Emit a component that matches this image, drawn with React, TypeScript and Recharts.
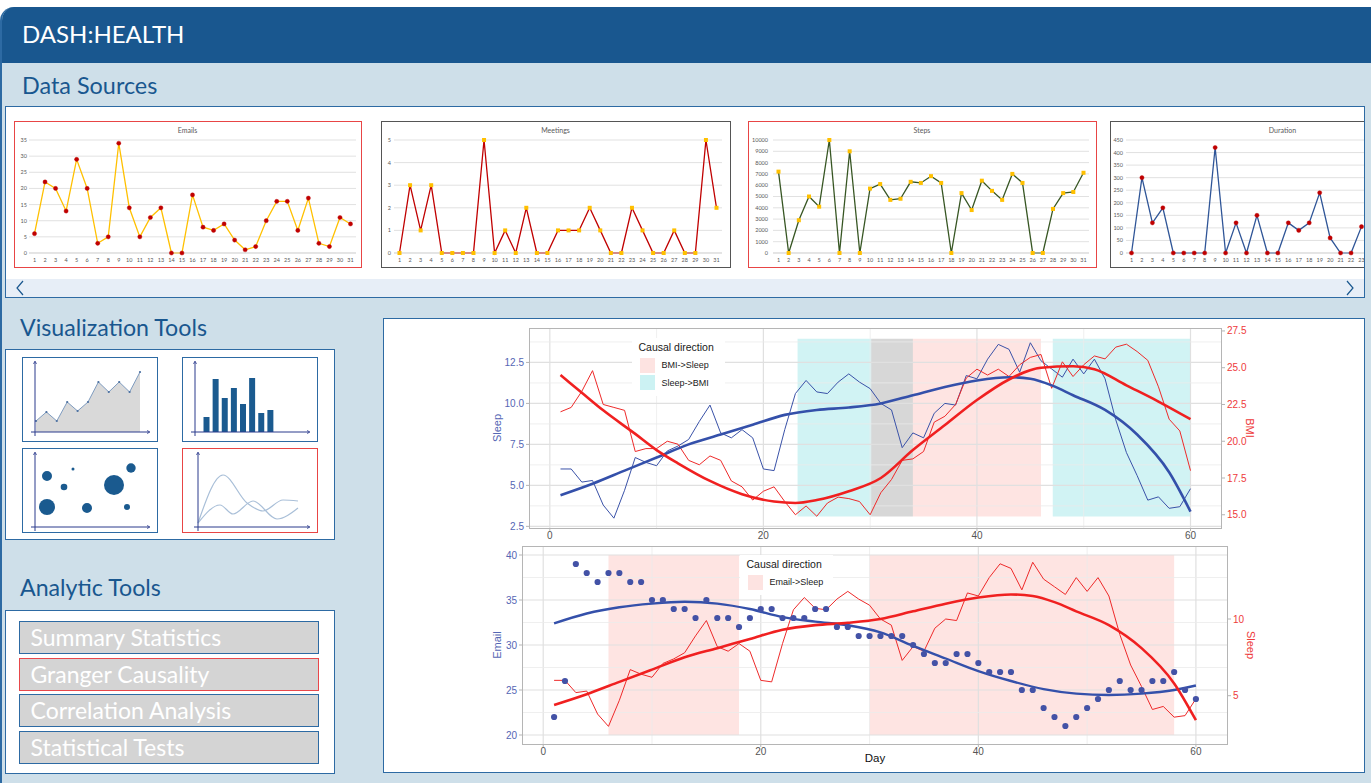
import React from "react";
import {
  Area,
  AreaChart,
  Bar,
  BarChart,
  CartesianGrid,
  ComposedChart,
  Line,
  LineChart,
  ReferenceArea,
  ReferenceLine,
  Scatter,
  ScatterChart,
  XAxis,
  YAxis,
  ZAxis,
} from "recharts";

const FONT_UI = "Lato, 'Open Sans', sans-serif";
const FONT_PLOT = "'Liberation Sans', Arial, sans-serif";
const NAVY = "#19578f";
const PANEL_BORDER = "#2d6aa3";
const BG = "#cedfe9";

// ---- data sources (one month) ----
const MONTH_DAYS = [1, 2, 3, 4, 5, 6, 7, 8, 9, 10, 11, 12, 13, 14, 15, 16, 17, 18, 19, 20, 21, 22, 23, 24, 25, 26, 27, 28, 29, 30, 31];
const EMAILS = [6, 22, 20, 13, 29, 20, 3, 5, 34, 14, 5, 11, 14, 0, 0, 18, 8, 7, 9, 4, 1, 2, 10, 16, 16, 7, 17, 3, 2, 11, 9];
const MEETINGS = [0, 3, 1, 3, 0, 0, 0, 0, 5, 0, 1, 0, 2, 0, 0, 1, 1, 1, 2, 1, 0, 0, 2, 1, 0, 0, 1, 0, 0, 5, 2];
const STEPS = [7200, 0, 2900, 5000, 4100, 10000, 0, 9000, 0, 5700, 6100, 4700, 4800, 6300, 6200, 6800, 6200, 0, 5300, 3800, 6400, 5500, 4700, 7000, 6200, 0, 0, 3900, 5300, 5400, 7100];
// only the first 23 days are visible, the rest is cut off by the panel
const DURATION = [0, 300, 120, 180, 0, 0, 0, 0, 420, 0, 120, 0, 150, 0, 0, 120, 90, 120, 240, 60, 0, 0, 105];

const EMAIL_TICKS = [0, 5, 10, 15, 20, 25, 30, 35];
const MEETING_TICKS = [0, 1, 2, 3, 4, 5];
const STEP_TICKS = [0, 1000, 2000, 3000, 4000, 5000, 6000, 7000, 8000, 9000, 10000];
const DURATION_TICKS = [0, 50, 100, 150, 200, 250, 300, 350, 400, 450];

// ---- visualization tool icons ----
const TREND = [1.1, 2, 1.1, 3, 2.1, 3, 5, 4, 5, 4, 6];
const HIST = [1.5, 5.3, 3.4, 4.4, 2.8, 5.4, 1.9, 2.2];
const BUBBLE_X = [1.2, 3.8, 2.9, 1.2, 5.2, 7.9, 9.6, 9.2];
const BUBBLE_Y = [5.1, 5.8, 4.0, 2.0, 1.9, 4.2, 5.9, 2.0];
const BUBBLE_R2 = [25, 2.3, 11, 64, 25, 100, 22, 9];
const WAVE_X = [0, 2.5, 4.9, 6.5, 8.5, 10];
const WAVE_A = [0.4, 5.2, 2.4, 1.6, 2.7, 2.6];
const WAVE_BX = [0, 2.2, 3.5, 5.5, 7.9, 10];
const WAVE_B = [0.4, 2.2, 1.3, 2.6, 0.8, 1.9];

const TOOLS = ["Summary Statistics", "Granger Causality", "Correlation Analysis", "Statistical Tests"];

// ---- granger causality panel (60 days) ----
const DAYS = Array.from({ length: 60 }, (_, i) => i + 1);
const SLEEP = [
  6.0, 6.0, 5.2, 5.3, 3.8, 3.0, 4.7, 6.7, 6.4, 6.2, 7.1, 7.4, 7.8, 8.9, 9.9, 8.2, 7.9, 8.4, 7.9, 6.0,
  5.9, 8.4, 10.6, 11.4, 10.7, 10.6, 11.3, 11.8, 11.3, 10.9, 10.0, 9.6, 7.3, 8.2, 7.9, 9.4, 10.0, 9.9, 11.7, 11.5,
  12.7, 13.6, 13.3, 11.9, 13.7, 12.6, 12.1, 11.6, 12.7, 11.8, 12.7, 11.5, 9.0, 7.0, 5.6, 4.1, 4.3, 3.6, 3.7, 4.8,
];
const BMI = [
  22.0, 22.3, 23.4, 24.8, 22.5, 22.3, 22.1, 19.3, 19.5, 19.5, 20.0, 19.8, 18.7, 18.4, 19.0, 18.7, 17.3, 16.9, 16.0, 16.6,
  16.9, 15.9, 15.0, 15.6, 14.9, 15.8, 16.2, 16.1, 15.9, 15.0, 16.5, 17.4, 18.7, 18.8, 19.3, 21.3, 21.7, 22.5, 24.3, 24.9,
  24.5, 24.9, 24.4, 25.2, 25.7, 25.9, 23.6, 25.4, 24.4, 25.2, 25.8, 25.6, 26.4, 26.6, 26.1, 25.5, 23.7, 21.5, 20.7, 18.0,
];
const EMAIL = [
  22, 26, 39, 38, 37, 38, 38, 37, 37, 35, 35, 34, 34, 33, 35, 33, 33, 32, 33, 34,
  34, 33, 33, 33, 34, 34, 32, 32, 31, 31, 31, 31, 31, 30, 29, 28, 28, 29, 29, 28,
  27, 27, 27, 25, 25, 23, 22, 21, 22, 23, 24, 25, 26, 25, 25, 26, 26, 27, 25, 24,
];
const SLEEP_FIT_DAYS = [1, 4, 7, 10, 13, 16, 19, 22, 25, 28, 31, 34, 37, 40, 43, 45, 47, 49, 52, 55, 58, 60];
const SLEEP_FIT = [4.4, 5.1, 5.9, 6.7, 7.5, 8.1, 8.7, 9.3, 9.6, 9.75, 10.0, 10.5, 11.0, 11.4, 11.6, 11.5, 11.1, 10.5, 9.6, 8.1, 5.8, 3.4];
const BMI_FIT_DAYS = [1, 3, 5, 8, 10, 12, 15, 18, 21, 23, 25, 28, 31, 34, 37, 40, 43, 46, 49, 51, 54, 57, 60];
const BMI_FIT = [24.5, 23.3, 22.1, 20.5, 19.4, 18.5, 17.3, 16.4, 15.9, 15.8, 16.0, 16.6, 17.5, 19.4, 21.1, 22.8, 24.2, 25.0, 25.1, 24.9, 23.8, 22.7, 21.5];
const EMAIL_FIT_DAYS = [1, 4, 7, 10, 13, 16, 19, 22, 25, 28, 31, 34, 37, 40, 43, 46, 49, 52, 55, 58, 60];
const EMAIL_FIT = [32.4, 33.5, 34.2, 34.6, 34.8, 34.6, 34.0, 33.1, 32.6, 32.2, 31.4, 29.9, 28.5, 27.1, 26.0, 25.1, 24.6, 24.45, 24.6, 25.0, 25.5];

// causal windows: [from day, to day, direction]
const UPPER_WINDOWS: [number, number, string][] = [
  [23.2, 30.1, "Sleep->BMI"],
  [30.1, 34.0, "none"],
  [34.0, 46.0, "BMI->Sleep"],
  [47.1, 60.0, "Sleep->BMI"],
];
const LOWER_WINDOWS: [number, number, string][] = [
  [6, 18, "Email->Sleep"],
  [30, 58, "Email->Sleep"],
];

const DAY_TICKS = [0, 20, 40, 60];
const DAY_MINOR = [10, 30, 50];
const SLEEP_TICKS = [2.5, 5, 7.5, 10, 12.5];
const SLEEP_MINOR = [3.75, 6.25, 8.75, 11.25, 13.75];
const BMI_TICKS = [15, 17.5, 20, 22.5, 25, 27.5];
const EMAIL_TICKS_MAIN = [20, 25, 30, 35, 40];
const EMAIL_MINOR = [22.5, 27.5, 32.5, 37.5];
const SLEEP_TICKS_LOWER = [5, 10];

const BAND_FILL: Record<string, [string, number]> = {
  "BMI->Sleep": ["#f8766d", 0.2],
  "Email->Sleep": ["#f8766d", 0.2],
  "Sleep->BMI": ["#00bfc4", 0.18],
  none: ["#7a7a7a", 0.3],
};

const fitAt = (days: number[], vals: number[], d: number) => {
  const i = days.indexOf(d);
  return i >= 0 ? vals[i] : null;
};

const ROWS = DAYS.map((d, i) => ({
  day: d,
  sleep: SLEEP[i],
  bmi: BMI[i],
  email: EMAIL[i],
  sleepFit: fitAt(SLEEP_FIT_DAYS, SLEEP_FIT, d),
  bmiFit: fitAt(BMI_FIT_DAYS, BMI_FIT, d),
  emailFit: fitAt(EMAIL_FIT_DAYS, EMAIL_FIT, d),
}));

const BLUE = "#3a52a8";
const RED = "#ee2a2a";
const GRID_MAJOR = "#e0e0e0";
const GRID_MINOR = "#ebebeb";

function Text({ x, y, size, color, children }: { x: number; y: number; size: number; color: string; children: React.ReactNode }) {
  return (
    <div style={{ position: "absolute", left: x, top: y, fontSize: size, lineHeight: 1, color, fontFamily: FONT_UI, whiteSpace: "nowrap" }}>
      {children}
    </div>
  );
}

function Panel({ x, y, w, h, children }: { x: number; y: number; w: number; h: number; children?: React.ReactNode }) {
  return (
    <div style={{ position: "absolute", left: x, top: y, width: w, height: h, background: "#fff", border: `1.5px solid ${PANEL_BORDER}`, boxSizing: "border-box", overflow: "hidden" }}>
      <div style={{ position: "absolute", left: -x - 1.5, top: -y - 1.5 }}>{children}</div>
    </div>
  );
}

type MiniProps = {
  title: string;
  values: number[];
  ticks: number[];
  line: string;
  mark: string;
  square?: boolean;
  left: number;
  width: number;
  chartW?: number;
  border: string;
  axisW: number;
  padR: number;
  labelGap: number;
};

function MiniChart({ title, values, ticks, line, mark, square, left, width, chartW, border, axisW, padR, labelGap }: MiniProps) {
  const data = MONTH_DAYS.slice(0, values.length).map((d, i) => ({ day: d, v: values[i] }));
  const dot = square
    ? (p: any) =>
        p.cy == null ? <g key={p.index} /> : <rect key={p.index} x={p.cx - 2} y={p.cy - 2} width={4} height={4} fill={mark} />
    : { r: 2.1, fill: mark, stroke: mark, strokeWidth: 0.4 };
  const tick = { fontSize: 5.5, fill: "#595959", fontFamily: FONT_UI };
  return (
    <div style={{ position: "absolute", left, top: 121, width, height: 147, border: `1px solid ${border}`, boxSizing: "border-box", background: "#fff" }}>
      <div style={{ position: "absolute", left: 0, width: width - 2, top: 4, textAlign: "center", fontSize: 7, color: "#595959", fontFamily: FONT_UI }}>{title}</div>
      <LineChart width={chartW ?? width - 2} height={145} data={data} margin={{ top: 18, right: padR, bottom: 0, left: 0 }}>
        <CartesianGrid vertical={false} stroke="#d9d9d9" strokeWidth={0.8} />
        <XAxis dataKey="day" interval={0} height={14} padding={{ left: 5.5, right: 5.5 }} axisLine={{ stroke: "#d9d9d9" }} tickLine={false} tickSize={0} tickMargin={5} tick={tick} />
        <YAxis width={axisW} domain={[0, ticks[ticks.length - 1]]} ticks={ticks} interval={0} axisLine={false} tickLine={false} tickSize={0} tickMargin={labelGap} tick={tick} />
        <Line dataKey="v" stroke={line} strokeWidth={1.3} dot={dot} isAnimationActive={false} />
      </LineChart>
    </div>
  );
}

function IconAxes({ ox, oy }: { ox: number; oy: number }) {
  const c = "#2b3a8c";
  return (
    <svg width={134} height={82} style={{ position: "absolute", left: 0, top: 0, pointerEvents: "none" }}>
      <line x1={ox} y1={4} x2={ox} y2={oy + 4} stroke={c} strokeWidth={1} />
      <line x1={ox - 4} y1={oy} x2={126} y2={oy} stroke={c} strokeWidth={1} />
      <path d={`M${ox - 1.5},6 L${ox},3 L${ox + 1.5},6`} stroke={c} fill="none" strokeWidth={0.8} />
      <path d={`M124,${oy - 1.5} L127,${oy} L124,${oy + 1.5}`} stroke={c} fill="none" strokeWidth={0.8} />
    </svg>
  );
}

function IconCard({ x, y, red, children }: { x: number; y: number; red?: boolean; children: React.ReactNode }) {
  return (
    <div style={{ position: "absolute", left: x, top: y, width: 136, height: 85, border: `1.3px solid ${red ? "#e84545" : PANEL_BORDER}`, boxSizing: "border-box", background: "#fff" }}>
      {children}
    </div>
  );
}

function CausalLegend({ x, y, items }: { x: number; y: number; items: [string, string][] }) {
  return (
    <div style={{ position: "absolute", left: x, top: y, width: 93, background: "#fff", padding: "3px 0 4px 8px", boxSizing: "border-box", fontFamily: FONT_PLOT, color: "#1a1a1a" }}>
      <div style={{ fontSize: 10.5, lineHeight: "13px", marginBottom: 3, marginLeft: -1 }}>Causal direction</div>
      {items.map(([label, color]) => (
        <div key={label} style={{ display: "flex", alignItems: "center", height: 17.5 }}>
          <span style={{ width: 15, height: 15, background: color, marginRight: 7, flex: "none" }} />
          <span style={{ fontSize: 9 }}>{label}</span>
        </div>
      ))}
    </div>
  );
}

function PlotFrame({ x, y, w, h }: { x: number; y: number; w: number; h: number }) {
  return <div style={{ position: "absolute", left: x, top: y, width: w, height: h, border: "1px solid #b5b5b5", boxSizing: "border-box", pointerEvents: "none" }} />;
}

const axisTick = (fill: string) => ({ fontSize: 10, fill, fontFamily: FONT_PLOT });

function UpperChart() {
  return (
    <div style={{ position: "absolute", left: 484, top: 322 }}>
      <ComposedChart width={783} height={227} data={ROWS} margin={{ top: 6, right: 0, bottom: 0, left: 0 }}>
        <XAxis type="number" dataKey="day" domain={[-1.95, 62.95]} ticks={DAY_TICKS} allowDataOverflow height={21} axisLine={false} tickSize={3} tickMargin={1} tickLine={{ stroke: "#b5b5b5" }} tick={axisTick("#555")} />
        <YAxis yAxisId="left" width={45} domain={[2.4, 14.6]} ticks={SLEEP_TICKS} allowDataOverflow axisLine={false} tickSize={3} tickMargin={2} tickLine={{ stroke: "#b5b5b5" }} tick={axisTick("#5566b4")} tickFormatter={(v: number) => v.toFixed(1)}
          label={{ value: "Sleep", angle: -90, position: "insideLeft", offset: 13, style: { textAnchor: "middle", fill: "#5566b4", fontSize: 11, fontFamily: FONT_PLOT } }} />
        <YAxis yAxisId="right" orientation="right" width={45} domain={[14.1, 27.7]} ticks={BMI_TICKS} allowDataOverflow axisLine={false} tickSize={3} tickMargin={2} tickLine={{ stroke: "#b5b5b5" }} tick={axisTick("#ee3a3a")} tickFormatter={(v: number) => v.toFixed(1)}
          label={{ value: "BMI", angle: 90, position: "insideRight", offset: 17, style: { textAnchor: "middle", fill: "#ee3a3a", fontSize: 11, fontFamily: FONT_PLOT } }} />
        {DAY_MINOR.map((v) => <ReferenceLine key={"xm" + v} yAxisId="left" x={v} stroke={GRID_MINOR} strokeWidth={0.8} />)}
        {DAY_TICKS.map((v) => <ReferenceLine key={"x" + v} yAxisId="left" x={v} stroke={GRID_MAJOR} strokeWidth={1.2} />)}
        {SLEEP_MINOR.map((v) => <ReferenceLine key={"ym" + v} yAxisId="left" y={v} stroke={GRID_MINOR} strokeWidth={0.8} />)}
        {SLEEP_TICKS.map((v) => <ReferenceLine key={"y" + v} yAxisId="left" y={v} stroke={GRID_MAJOR} strokeWidth={1.2} />)}
        {UPPER_WINDOWS.map(([a, b, k]) => (
          <ReferenceArea key={"w" + a} yAxisId="left" x1={a} x2={b} y1={3.1} y2={13.95} fill={BAND_FILL[k][0]} fillOpacity={BAND_FILL[k][1]} stroke="none" />
        ))}
        <Line yAxisId="left" dataKey="sleep" stroke={BLUE} strokeWidth={1} dot={false} isAnimationActive={false} />
        <Line yAxisId="right" dataKey="bmi" stroke={RED} strokeWidth={1} dot={false} isAnimationActive={false} />
        <Line yAxisId="left" dataKey="sleepFit" type="monotone" connectNulls stroke="#3450aa" strokeWidth={2.6} dot={false} isAnimationActive={false} />
        <Line yAxisId="right" dataKey="bmiFit" type="monotone" connectNulls stroke="#f02020" strokeWidth={2.6} dot={false} isAnimationActive={false} />
      </ComposedChart>
    </div>
  );
}

function LowerChart() {
  return (
    <div style={{ position: "absolute", left: 482, top: 541 }}>
      <ComposedChart width={786} height={228} data={ROWS} margin={{ top: 5, right: 0, bottom: 0, left: 0 }}>
        <XAxis type="number" dataKey="day" domain={[-1.95, 62.95]} ticks={DAY_TICKS} allowDataOverflow height={25} axisLine={false} tickSize={3} tickMargin={1} tickLine={{ stroke: "#b5b5b5" }} tick={axisTick("#555")}
          label={{ value: "Day", position: "insideBottom", offset: 7, style: { fill: "#111", fontSize: 11.5, fontFamily: FONT_PLOT } }} />
        <YAxis yAxisId="left" width={40} domain={[19, 41]} ticks={EMAIL_TICKS_MAIN} allowDataOverflow axisLine={false} tickSize={3} tickMargin={2} tickLine={{ stroke: "#b5b5b5" }} tick={axisTick("#5566b4")}
          label={{ value: "Email", angle: -90, position: "insideLeft", offset: 15, style: { textAnchor: "middle", fill: "#5566b4", fontSize: 11, fontFamily: FONT_PLOT } }} />
        <YAxis yAxisId="right" orientation="right" width={40} domain={[1.85, 14.76]} ticks={SLEEP_TICKS_LOWER} allowDataOverflow axisLine={false} tickSize={3} tickMargin={2} tickLine={{ stroke: "#b5b5b5" }} tick={axisTick("#ee3a3a")}
          label={{ value: "Sleep", angle: 90, position: "insideRight", offset: 17, style: { textAnchor: "middle", fill: "#ee3a3a", fontSize: 11, fontFamily: FONT_PLOT } }} />
        {DAY_MINOR.map((v) => <ReferenceLine key={"xm" + v} yAxisId="left" x={v} stroke={GRID_MINOR} strokeWidth={0.8} />)}
        {DAY_TICKS.map((v) => <ReferenceLine key={"x" + v} yAxisId="left" x={v} stroke={GRID_MAJOR} strokeWidth={1.2} />)}
        {EMAIL_MINOR.map((v) => <ReferenceLine key={"ym" + v} yAxisId="left" y={v} stroke={GRID_MINOR} strokeWidth={0.8} />)}
        {EMAIL_TICKS_MAIN.map((v) => <ReferenceLine key={"y" + v} yAxisId="left" y={v} stroke={GRID_MAJOR} strokeWidth={1.2} />)}
        {LOWER_WINDOWS.map(([a, b, k]) => (
          <ReferenceArea key={"w" + a} yAxisId="left" x1={a} x2={b} y1={20} y2={40} fill={BAND_FILL[k][0]} fillOpacity={BAND_FILL[k][1]} stroke="none" />
        ))}
        <Line yAxisId="right" dataKey="sleep" stroke={RED} strokeWidth={1} dot={false} isAnimationActive={false} />
        <Line yAxisId="left" dataKey="emailFit" type="monotone" connectNulls stroke="#3450aa" strokeWidth={2.4} dot={false} isAnimationActive={false} />
        <Line yAxisId="right" dataKey="sleepFit" type="monotone" connectNulls stroke="#f02020" strokeWidth={2.6} dot={false} isAnimationActive={false} />
        <Scatter yAxisId="left" dataKey="email" isAnimationActive={false}
          shape={(p: any) => <circle cx={p.cx} cy={p.cy} r={3.1} fill="#4352a6" />} />
      </ComposedChart>
    </div>
  );
}

function Icons() {
  const trend = TREND.map((v, i) => ({ i, v }));
  const hist = HIST.map((v, i) => ({ i, v }));
  const bubbles = BUBBLE_X.map((x, i) => ({ x, y: BUBBLE_Y[i], z: BUBBLE_R2[i] }));
  const waveA = WAVE_X.map((x, i) => ({ x, a: WAVE_A[i] }));
  const waveB = WAVE_BX.map((x, i) => ({ x, b: WAVE_B[i] }));
  return (
    <>
      <IconCard x={22} y={357}>
        <AreaChart width={134} height={82} data={trend} margin={{ top: 8, right: 17, bottom: 8, left: 13 }}>
          <XAxis dataKey="i" hide />
          <YAxis hide domain={[0, 6.6]} />
          <Area dataKey="v" type="linear" stroke="#7f9cc0" strokeWidth={1} fill="#d9d9d9" fillOpacity={1} dot={{ r: 1.1, fill: "#4a6fa0", stroke: "none" }} isAnimationActive={false} />
        </AreaChart>
        <IconAxes ox={12} oy={74} />
      </IconCard>
      <IconCard x={182} y={357}>
        <BarChart width={134} height={82} data={hist} margin={{ top: 8, right: 42, bottom: 8, left: 19 }} barCategoryGap={1.5}>
          <XAxis dataKey="i" hide />
          <YAxis hide domain={[0, 6.6]} />
          <Bar dataKey="v" fill="#1a5a8f" isAnimationActive={false} />
        </BarChart>
        <IconAxes ox={12} oy={74} />
      </IconCard>
      <IconCard x={22} y={448}>
        <ScatterChart width={134} height={82} margin={{ top: 0, right: 0, bottom: 4, left: 12 }}>
          <XAxis type="number" dataKey="x" hide domain={[0, 12.2]} />
          <YAxis type="number" dataKey="y" hide domain={[0, 7.8]} />
          <ZAxis type="number" dataKey="z" domain={[0, 100]} range={[0, 314]} />
          <Scatter data={bubbles} fill="#1a5a8f" isAnimationActive={false} />
        </ScatterChart>
        <IconAxes ox={12} oy={78} />
      </IconCard>
      <IconCard x={182} y={448} red>
        <LineChart width={134} height={82} margin={{ top: 0, right: 0, bottom: 4, left: 15 }}>
          <XAxis type="number" dataKey="x" hide domain={[0, 11.9]} />
          <YAxis hide domain={[0, 7.8]} />
          <Line data={waveA} dataKey="a" type="monotone" stroke="#a9bfd8" strokeWidth={1.2} dot={false} isAnimationActive={false} />
          <Line data={waveB} dataKey="b" type="monotone" stroke="#a9bfd8" strokeWidth={1.2} dot={false} isAnimationActive={false} />
        </LineChart>
        <IconAxes ox={15} oy={78} />
      </IconCard>
    </>
  );
}

export default function App() {
  return (
    <div style={{ position: "absolute", left: 0, top: 0, width: 1371, height: 783, overflow: "hidden", background: "#fff" }}>
      <div style={{ position: "absolute", left: 0, top: 7, width: 1400, height: 800, background: BG, borderLeft: `2px solid ${PANEL_BORDER}`, borderTopLeftRadius: 14, overflow: "hidden" }}>
        <div style={{ height: 56, background: NAVY }} />
      </div>
      <Text x={22} y={22} size={24} color="#fff">DASH:HEALTH</Text>
      <Text x={22} y={74} size={23.4} color={NAVY}>Data Sources</Text>
      <Text x={20} y={316} size={23.2} color={NAVY}>Visualization Tools</Text>
      <Text x={20} y={576} size={23.2} color={NAVY}>Analytic Tools</Text>

      <Panel x={5} y={106} w={1360} h={192}>
        <MiniChart title="Emails" values={EMAILS} ticks={EMAIL_TICKS} line="#ffc000" mark="#c00000" left={14} width={348} border="#e84545" axisW={14} padR={5} labelGap={2} />
        <MiniChart title="Meetings" values={MEETINGS} ticks={MEETING_TICKS} line="#c00000" mark="#ffc000" square left={381} width={350} border="#555" axisW={12} padR={8} labelGap={3} />
        <MiniChart title="Steps" values={STEPS} ticks={STEP_TICKS} line="#375623" mark="#ffc000" square left={748} width={349} border="#e84545" axisW={24} padR={7} labelGap={5} />
        <MiniChart title="Duration" values={DURATION} ticks={DURATION_TICKS} line="#2f5597" mark="#c00000" left={1110} width={346} chartW={260} border="#555" axisW={15} padR={4} labelGap={3} />
        <div style={{ position: "absolute", left: 6, top: 279, width: 1358, height: 19, background: "#e7eef7" }}>
          <svg width={1358} height={19}>
            <polyline points="17,2 11,9 17,16" fill="none" stroke={NAVY} strokeWidth={1.2} />
            <polyline points="1341,2 1347,9 1341,16" fill="none" stroke={NAVY} strokeWidth={1.2} />
          </svg>
        </div>
      </Panel>

      <Panel x={5} y={349} w={330} h={191}>
        <Icons />
      </Panel>

      <Panel x={5} y={610} w={330} h={164}>
        {TOOLS.map((t, i) => (
          <div key={t} style={{ position: "absolute", left: 19, top: [621, 658, 694, 731][i], width: 300, height: 33, background: "#d4d4d4", border: `1.5px solid ${i === 1 ? "#e8474a" : PANEL_BORDER}`, boxSizing: "border-box", color: "#fff", fontFamily: FONT_UI, fontSize: 23, lineHeight: "30px", paddingLeft: 11, whiteSpace: "nowrap" }}>
            {t}
          </div>
        ))}
      </Panel>

      <Panel x={383} y={318} w={982} h={455}>
        <UpperChart />
        <PlotFrame x={529} y={328} w={693} h={201} />
        <CausalLegend x={632} y={338} items={[["BMI->Sleep", "#fde3e1"], ["Sleep->BMI", "#ccf2f3"]]} />
        <LowerChart />
        <PlotFrame x={522} y={546} w={706} h={199} />
        <CausalLegend x={740} y={555} items={[["Email->Sleep", "#fde3e1"]]} />
      </Panel>
    </div>
  );
}
